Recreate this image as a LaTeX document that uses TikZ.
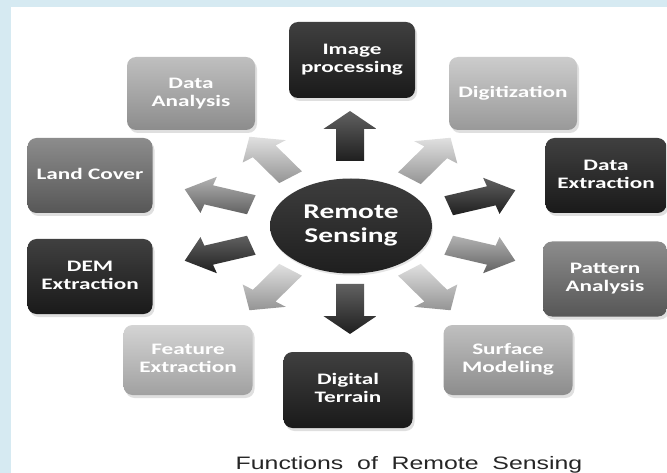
\documentclass[tikz,border=0pt]{standalone}
\usepackage{fontspec}
\setmainfont{Carlito}
\newfontfamily\capfont[WordSpace=2]{Liberation Sans}
\usetikzlibrary{shapes.geometric,shadows}
\definecolor{bgblue}{RGB}{214,234,242}
\newcommand\wtext[2][1.45]{\scalebox{#1}[1]{\begin{tabular}{@{}c@{}}#2\end{tabular}}}
\newcommand\rsarrow[3]{%
  \begin{scope}[shift={(#1)}, xscale=1.4, rotate=#2]
    \shade[#3] (-25,-10) -- (7,-10) -- (7,-19) -- (25,0) -- (7,19) -- (7,10) -- (-25,10) -- cycle;
  \end{scope}}
\tikzset{
  funcbox/.style={rectangle, rounded corners=9pt, text=white,
    font=\bfseries\fontsize{16}{18}\selectfont, inner sep=0pt,
    drop shadow={opacity=0.25, shadow xshift=2pt, shadow yshift=-3pt}},
  darkbox/.style={funcbox, top color=black!75, bottom color=black!90},
  midbox/.style={funcbox, top color=black!45, bottom color=black!66},
  lightbox/.style={funcbox, top color=black!25, bottom color=black!45},
  darkarrow/.style={top color=black!62, bottom color=black!88},
  midarrow/.style={top color=black!30, bottom color=black!62},
  lightarrow/.style={top color=black!12, bottom color=black!42},
}
\begin{document}
\begin{tikzpicture}[x=1pt,y=-1pt]
\useasboundingbox (0,0) rectangle (667,473);
\fill[bgblue] (0,0) rectangle (667,473);
\fill[white] (11,7) rectangle (667,473);

% boxes
\node[darkbox, minimum width=126, minimum height=76] (img) at (352,60) {\wtext{Image\\processing}};
\node[lightbox, minimum width=128, minimum height=73] (dana) at (191,93.5) {\wtext{Data\\Analysis}};
\node[lightbox, minimum width=128, minimum height=73, top color=black!20, bottom color=black!40] (digi) at (513,93.5) {\wtext{Digitization}};
\node[midbox, minimum width=125, minimum height=75] (land) at (90,175.5) {\wtext{Land Cover}};
\node[darkbox, minimum width=121, minimum height=75] (dext) at (606,175.5) {\wtext{Data\\Extraction}};
\node[darkbox, minimum width=125, minimum height=75] (dem) at (90,276.5) {\wtext{DEM\\Extraction}};
\node[midbox, minimum width=124, minimum height=75] (patt) at (605,279) {\wtext{Pattern\\Analysis}};
\node[lightbox, minimum width=129, minimum height=70, top color=black!17, bottom color=black!37] (feat) at (188,360) {\wtext{Feature\\Extraction}};
\node[darkbox, minimum width=129, minimum height=76] (terr) at (348,390) {\wtext{Digital\\Terrain}};
\node[lightbox, minimum width=129, minimum height=70] (surf) at (508,360) {\wtext{Surface\\Modeling}};

% centre
\node[ellipse, minimum width=162, minimum height=95, inner sep=0pt,
  top color=black!76, bottom color=black!88, text=white,
  font=\bfseries\fontsize{21}{24}\selectfont,
  drop shadow={opacity=0.2, shadow xshift=1pt, shadow yshift=-2pt}] (rs) at (351,226)
  {\wtext[1.4]{Remote\\Sensing}};

% arrow positions
\coordinate (a0) at (350,136);
\coordinate (a1) at (270,157);
\coordinate (a2) at (218,197);
\coordinate (a3) at (218,253);
\coordinate (a4) at (270,290);
\coordinate (a5) at (350,309);
\coordinate (a6) at (430,290);
\coordinate (a7) at (482,253);
\coordinate (a8) at (482,198);
\coordinate (a9) at (430,158);

\rsarrow{a0}{90}{darkarrow}
\rsarrow{a1}{126}{lightarrow}
\rsarrow{a2}{162}{midarrow}
\rsarrow{a3}{198}{darkarrow}
\rsarrow{a4}{234}{lightarrow}
\rsarrow{a5}{270}{darkarrow}
\rsarrow{a6}{306}{lightarrow}
\rsarrow{a7}{342}{midarrow}
\rsarrow{a8}{18}{darkarrow}
\rsarrow{a9}{54}{lightarrow}

% caption
\node[font=\capfont\fontsize{18}{20}\selectfont, text=black!85, anchor=base, inner sep=0pt] (cap) at (409,469)
  {\scalebox{1.38}[1]{Functions of Remote Sensing}};
\end{tikzpicture}
\end{document}
